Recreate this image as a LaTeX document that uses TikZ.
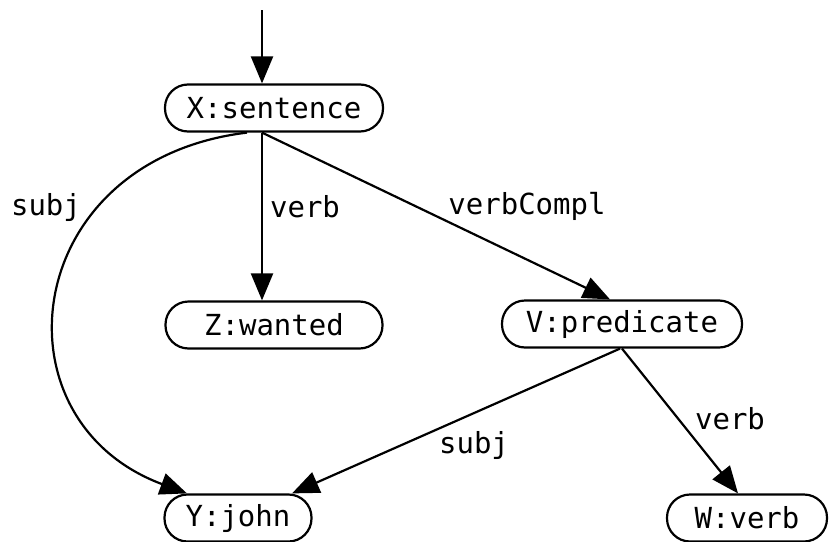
\documentclass[tikz,border=0pt]{standalone}
\usepackage{fontspec}
\setmonofont{DejaVu Sans Mono}
\usetikzlibrary{arrows.meta}
\tikzset{
  term/.style={draw, line width=2.2pt, rounded corners=23pt, minimum height=47pt,
    inner sep=0pt, font=\ttfamily\fontsize{29}{35}\selectfont},
  lbl/.style={inner sep=0pt, font=\ttfamily\fontsize{29}{35}\selectfont},
  link/.style={line width=2.2pt, -{Triangle[length=27pt,width=22pt]}}
}
\begin{document}
\begin{tikzpicture}[x=1pt,y=-1pt]
  \useasboundingbox (0,0) rectangle (829,541);
  % feature-structure nodes
  \node[term, minimum width=218pt] (X) at (274,108) {X:sentence};
  \node[term, minimum width=217pt] (Z) at (274,325) {Z:wanted};
  \node[term, minimum width=240pt] (V) at (622,324) {V:predicate};
  \node[term, minimum width=147pt] (Y) at (238,518) {Y:john};
  \node[term, minimum width=160pt] (W) at (747,518) {W:verb};
  \coordinate (in) at (262,10);
  % arcs
  \draw[link] (in) -- ([xshift=-12pt]X.north);
  \draw[link] ([xshift=-12pt]X.south) -- ([xshift=-12pt]Z.north);
  \draw[link] ([xshift=-12pt]X.south) -- ([xshift=-12pt]V.north);
  \draw[link] ([xshift=-27pt]X.south) .. controls (20,160) and (-10,420) .. ([xshift=-51pt]Y.north);
  \draw[link] ([xshift=-2pt]V.south) -- ([xshift=54pt]Y.north);
  \draw[link] (V.south) -- ([xshift=-9pt]W.north);
  % arc labels
  \node[lbl] (l1) at (46,207) {subj};
  \node[lbl] (l2) at (305,207) {verb};
  \node[lbl] (l3) at (527,206) {verbCompl};
  \node[lbl] (l4) at (474,445) {subj};
  \node[lbl] (l5) at (730,419) {verb};
\end{tikzpicture}
\end{document}
